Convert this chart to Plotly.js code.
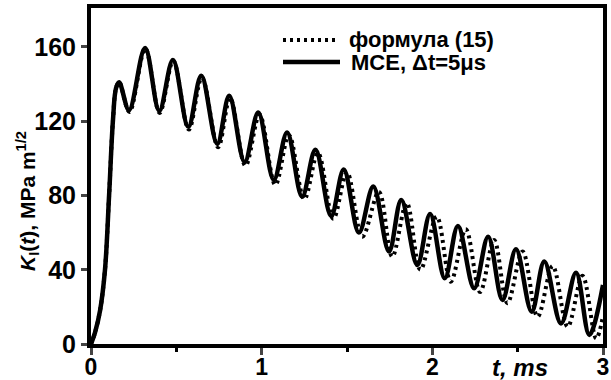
<!DOCTYPE html>
<html>
<head>
<meta charset="utf-8">
<script src="https://cdn.plot.ly/plotly-3.0.1.min.js"></script>
<style>html,body{margin:0;padding:0;background:#fff;}#chart{width:611px;height:380px;}</style>
</head>
<body>
<div id="chart"></div>
<script>
// MCE, dt = 5 us (solid)
var tMCE = [0, 0.023, 0.053, 0.082, 0.106, 0.129, 0.147, 0.165, 0.223, 0.317, 0.40, 0.48, 0.57, 0.646, 0.74, 0.81, 0.90, 0.98, 1.071, 1.149, 1.237, 1.315, 1.407, 1.481, 1.57, 1.654, 1.746, 1.818, 1.912, 1.987, 2.073, 2.15, 2.245, 2.327, 2.411, 2.49, 2.582, 2.656, 2.754, 2.842, 2.92, 3.0];
var kMCE = [0, 6, 18, 40, 80, 121, 138, 141, 126, 159.5, 125.6, 153, 117, 144.5, 107.8, 133.7, 98, 124.7, 88.4, 114, 79.4, 104.6, 69, 94, 60, 84.8, 49.8, 77.6, 42.6, 70, 35.4, 63.6, 30, 57.8, 23.7, 51, 17.4, 44.4, 11.1, 38.4, 4.9, 31.8];
// formula (15) (dotted)
var tFormula = [0, 0.023, 0.053, 0.082, 0.106, 0.129, 0.147, 0.165, 0.225, 0.318, 0.402, 0.482, 0.573, 0.65, 0.745, 0.815, 0.905, 0.988, 1.08, 1.16, 1.25, 1.33, 1.42, 1.50, 1.59, 1.687, 1.765, 1.85, 1.93, 2.026, 2.108, 2.196, 2.28, 2.362, 2.44, 2.529, 2.617, 2.705, 2.793, 2.88, 2.96, 3.0];
var kFormula = [0, 6, 18, 40, 80, 121, 138, 141, 125, 159, 124.5, 152.5, 115.5, 143.5, 106, 132.5, 96, 123.5, 85.7, 112.5, 78, 103, 67.5, 92.5, 57.8, 82, 47, 76, 40, 68.6, 33.6, 61.8, 28, 56, 22, 49.8, 14.7, 42, 9.3, 36.7, 3, 15];
var xTicks = [0, 1, 2, 3];
var yTicks = [0, 40, 80, 120, 160];
var seriesNames = ['формула (15)', 'MCE, Δt=5μs'];

var FONT = 'Liberation Sans, Arial, sans-serif';
var L = 91, W = 512, B = 344, H = 336;
function px(x) { return (x - L) / W; }
function py(y) { return (B - y) / H; }

var traces = [
  {x: tFormula, y: kFormula, name: seriesNames[0], type: 'scatter', mode: 'lines', showlegend: false,
   line: {color: '#000', width: 4, dash: '3px,4px', shape: 'spline'}},
  {x: tMCE, y: kMCE, name: seriesNames[1], type: 'scatter', mode: 'lines', showlegend: false,
   line: {color: '#000', width: 4.5, shape: 'spline'}}
];

var layout = {
  width: 611, height: 380,
  margin: {l: 91, r: 8, t: 8, b: 36},
  paper_bgcolor: '#fff', plot_bgcolor: '#fff',
  font: {family: FONT, color: '#000', size: 24, weight: 'bold'},
  showlegend: false,
  xaxis: {range: [0, 3], tickvals: xTicks, ticktext: xTicks.map(String), ticks: 'outside', ticklen: 7, tickwidth: 3,
          showline: true, linewidth: 4, linecolor: '#000', mirror: true, showgrid: false, zeroline: false,
          ticklabelstandoff: -8,
          tickfont: {family: FONT, size: 23, weight: 'bold'},
          minor: {dtick: 0.5, tick0: 0, ticks: 'outside', ticklen: 4, tickwidth: 3, tickcolor: '#000', showgrid: false}},
  yaxis: {range: [0, 181], tickvals: yTicks, ticktext: yTicks.map(String), ticks: 'outside', ticklen: 6, tickwidth: 3,
          showline: true, linewidth: 4, linecolor: '#000', mirror: true, showgrid: false, zeroline: false,
          tickfont: {family: FONT, size: 25, weight: 'bold'}},
  shapes: [
    {type: 'line', xref: 'paper', yref: 'paper', x0: px(283), x1: px(338), y0: py(40), y1: py(40),
     line: {color: '#000', width: 4, dash: '3px,4px'}},
    {type: 'line', xref: 'paper', yref: 'paper', x0: px(283), x1: px(340), y0: py(62), y1: py(62),
     line: {color: '#000', width: 4.5}}
  ],
  annotations: [
    {text: seriesNames[0], xref: 'paper', yref: 'paper', x: px(347), y: py(39), xanchor: 'left', yanchor: 'middle',
     showarrow: false, font: {family: FONT, size: 22, weight: 'bold', color: '#000'}},
    {text: seriesNames[1], xref: 'paper', yref: 'paper', x: px(349), y: py(63), xanchor: 'left', yanchor: 'middle',
     showarrow: false, font: {family: FONT, size: 22, weight: 'bold', color: '#000'}},
    {text: '<i>K</i><sub>I</sub>(<i>t</i>), MPa m<sup>1/2</sup>', xref: 'paper', yref: 'paper',
     x: px(27), y: py(201), xanchor: 'center', yanchor: 'middle', textangle: -90, showarrow: false,
     font: {family: FONT, size: 21, weight: 'bold', color: '#000'}},
    {text: '<i>t, ms</i>', xref: 'paper', yref: 'paper', x: px(520), y: py(367),
     xanchor: 'center', yanchor: 'middle', showarrow: false,
     font: {family: FONT, size: 24, weight: 'bold', color: '#000'}}
  ]
};

Plotly.newPlot('chart', traces, layout, {displayModeBar: false, staticPlot: true});
</script>
</body>
</html>
